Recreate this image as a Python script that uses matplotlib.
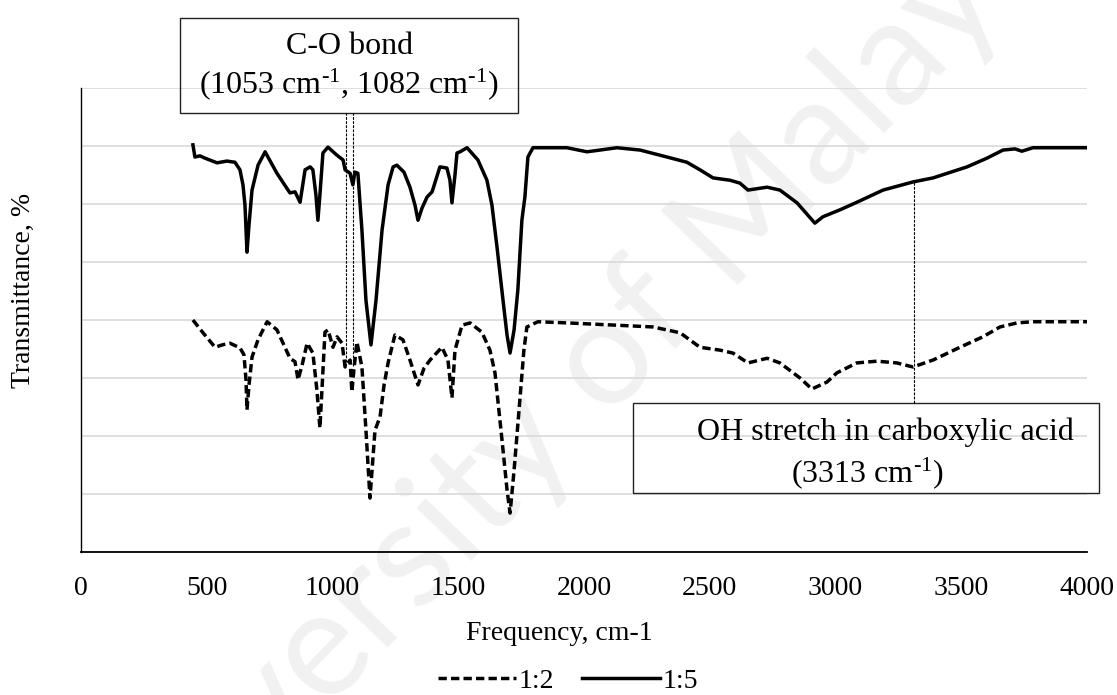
import numpy as np
import matplotlib

matplotlib.use("Agg")
import matplotlib.pyplot as plt
from matplotlib.patches import Rectangle
from matplotlib.lines import Line2D

plt.rcParams["font.family"] = ["Liberation Serif", "DejaVu Serif"]
plt.rcParams["mathtext.fontset"] = "custom"
plt.rcParams["mathtext.rm"] = "Liberation Serif"
plt.rcParams["mathtext.it"] = "Liberation Serif:italic"

# FTIR spectra, frequency (cm-1) vs transmittance (arbitrary offset units)
freq_15 = [445, 453, 473, 493, 541, 580, 612, 632, 644, 652, 660, 668, 680, 704, 732,
           779, 831, 851, 871, 891, 911, 922, 934, 942, 950, 962, 982, 1018, 1042,
           1050, 1070, 1081, 1089, 1101, 1117, 1133, 1153, 1173, 1197, 1221, 1241,
           1256, 1284, 1308, 1328, 1340, 1356, 1376, 1396, 1427, 1455, 1467, 1475,
           1487, 1495, 1507, 1535, 1578, 1614, 1634, 1654, 1678, 1694, 1706, 1722,
           1737, 1753, 1765, 1777, 1797, 1932, 2012, 2131, 2223, 2330, 2409, 2461,
           2513, 2580, 2620, 2652, 2728, 2779, 2847, 2918, 2950, 3018, 3085, 3189,
           3308, 3388, 3523, 3602, 3666, 3714, 3741, 3785, 4000]
trans_15 = [7.02, 6.81, 6.83, 6.79, 6.71, 6.74, 6.72, 6.59, 6.33, 5.98, 5.17, 5.64,
            6.24, 6.67, 6.90, 6.53, 6.19, 6.21, 6.03, 6.59, 6.64, 6.59, 6.16, 5.72,
            6.16, 6.88, 6.98, 6.84, 6.76, 6.59, 6.53, 6.33, 6.55, 6.53, 5.55, 4.34,
            3.57, 4.34, 5.55, 6.33, 6.64, 6.67, 6.55, 6.29, 5.98, 5.72, 5.93, 6.12,
            6.21, 6.64, 6.62, 6.41, 6.02, 6.50, 6.88, 6.90, 6.97, 6.76, 6.41, 5.98,
            5.26, 4.34, 3.74, 3.43, 3.83, 4.52, 5.72, 6.12, 6.81, 6.97, 6.97, 6.90,
            6.97, 6.93, 6.81, 6.72, 6.59, 6.45, 6.41, 6.36, 6.24, 6.29, 6.24, 6.02,
            5.67, 5.78, 5.90, 6.03, 6.24, 6.38, 6.45, 6.64, 6.79, 6.93, 6.95, 6.91,
            6.97, 6.97]

freq_12 = [445, 485, 533, 561, 592, 632, 648, 656, 660, 668, 680, 704, 740, 779, 831,
           851, 863, 879, 899, 922, 938, 950, 958, 970, 982, 1002, 1018, 1038, 1050,
           1070, 1077, 1085, 1097, 1117, 1133, 1149, 1169, 1189, 1205, 1221, 1248,
           1280, 1308, 1340, 1364, 1388, 1435, 1459, 1475, 1487, 1515, 1547, 1594,
           1626, 1646, 1674, 1694, 1706, 1722, 1745, 1761, 1773, 1817, 1932, 2131,
           2274, 2382, 2461, 2541, 2592, 2652, 2728, 2779, 2859, 2906, 2966, 3006,
           3085, 3165, 3244, 3308, 3388, 3495, 3586, 3654, 3722, 3785, 4000]
trans_12 = [4.00, 3.78, 3.53, 3.57, 3.60, 3.52, 3.40, 2.97, 2.45, 2.88, 3.36, 3.66,
            3.97, 3.83, 3.34, 3.28, 2.97, 3.22, 3.60, 3.43, 2.79, 2.14, 2.79, 3.79,
            3.83, 3.53, 3.71, 3.60, 3.19, 3.31, 2.76, 3.14, 3.62, 3.19, 2.10, 0.93,
            2.10, 2.33, 2.88, 3.26, 3.74, 3.66, 3.31, 2.88, 3.17, 3.31, 3.53, 3.31,
            2.66, 3.48, 3.91, 3.95, 3.79, 3.48, 3.09, 1.93, 1.07, 0.67, 1.41, 2.62,
            3.48, 3.88, 3.97, 3.95, 3.91, 3.88, 3.78, 3.53, 3.48, 3.43, 3.26, 3.34,
            3.26, 3.00, 2.81, 2.93, 3.09, 3.26, 3.29, 3.26, 3.19, 3.31, 3.53, 3.71,
            3.88, 3.95, 3.97, 3.97]

co_peaks = [1053, 1082]
oh_peak = 3313
x_ticks = list(range(0, 4001, 500))

W, H = 1117, 695
fig = plt.figure(figsize=(W / 100, H / 100), dpi=100)
ax = fig.add_axes([81 / W, 1 - 552 / H, 1006 / W, 464 / H])
ax.patch.set_visible(False)

# faint watermark sitting behind the axes
fig.text(0.497, 0.405, "University of Malaya", rotation=46, rotation_mode="anchor",
         ha="center", va="center", fontsize=108, color="#f1f1f1",
         family=["Lato", "DejaVu Sans"], zorder=-5)

ax.plot(freq_12, trans_12, color="black", lw=2.5, dashes=(2.4, 1.2), label="1:2")
ax.plot(freq_15, trans_15, color="black", lw=2.5, label="1:5")

ax.set_xlim(0, 4000)
ax.set_ylim(0, 8)
ax.set_xticks(x_ticks)
ax.set_yticks(range(0, 9))
ax.set_yticklabels([])
ax.tick_params(axis="x", length=0, pad=17, labelsize=20)
ax.tick_params(axis="y", length=0)
ax.yaxis.grid(True, color="#d9d9d9", lw=1.2)
ax.set_axisbelow(True)
for s in ("top", "right"):
    ax.spines[s].set_visible(False)
ax.spines["left"].set_linewidth(1.0)
ax.spines["bottom"].set_linewidth(1.3)

inv_cm = r"cm$^{\text{-}1}$"

# C-O bond callout
anno = dict(color="black", lw=0.8, dashes=(2.5, 1.2))
co_box = (394, 7.57, 1738, 9.21)
ax.add_patch(Rectangle((co_box[0], co_box[1]), co_box[2] - co_box[0], co_box[3] - co_box[1],
                       fill=False, ec="#222222", lw=1.0, clip_on=False))
co_bottom = np.interp(co_peaks[0], freq_12, trans_12)
for p in co_peaks:
    ax.add_line(Line2D([p, p], [co_bottom, co_box[1]], **anno))
ax.text(1066, 8.71, "C-O bond", ha="center", va="center", fontsize=23, clip_on=False)
ax.text(1066, 8.07, f"(1053 {inv_cm}, 1082 {inv_cm})", ha="center", va="center",
        fontsize=23, clip_on=False)

# OH stretch callout
oh_box = (2195, 1.02, 4048, 2.57)
ax.add_patch(Rectangle((oh_box[0], oh_box[1]), oh_box[2] - oh_box[0], oh_box[3] - oh_box[1],
                       fill=False, ec="#222222", lw=1.0, clip_on=False))
ax.add_line(Line2D([oh_peak, oh_peak], [oh_box[3], np.interp(oh_peak, freq_15, trans_15)], **anno))
ax.text(3197, 2.07, "OH stretch in carboxylic acid", ha="center", va="center",
        fontsize=23, clip_on=False)
ax.text(3125, 1.36, f"(3313 {inv_cm})", ha="center", va="center", fontsize=23, clip_on=False)

fig.text(559 / W, 1 - 634 / H, "Frequency, cm-1", ha="center", va="center", fontsize=20)
fig.text(23 / W, 1 - 290 / H, "Transmittance, %", rotation=90, ha="center", va="center",
         fontsize=20)

handles, labels = ax.get_legend_handles_labels()
fig.legend(handles, labels, loc="center", bbox_to_anchor=(568 / W, 1 - 681 / H), ncol=2,
           frameon=False, fontsize=20, handlelength=2.8, handletextpad=0.1,
           columnspacing=1.0, borderpad=0)

fig.savefig("out.png", dpi=100)
